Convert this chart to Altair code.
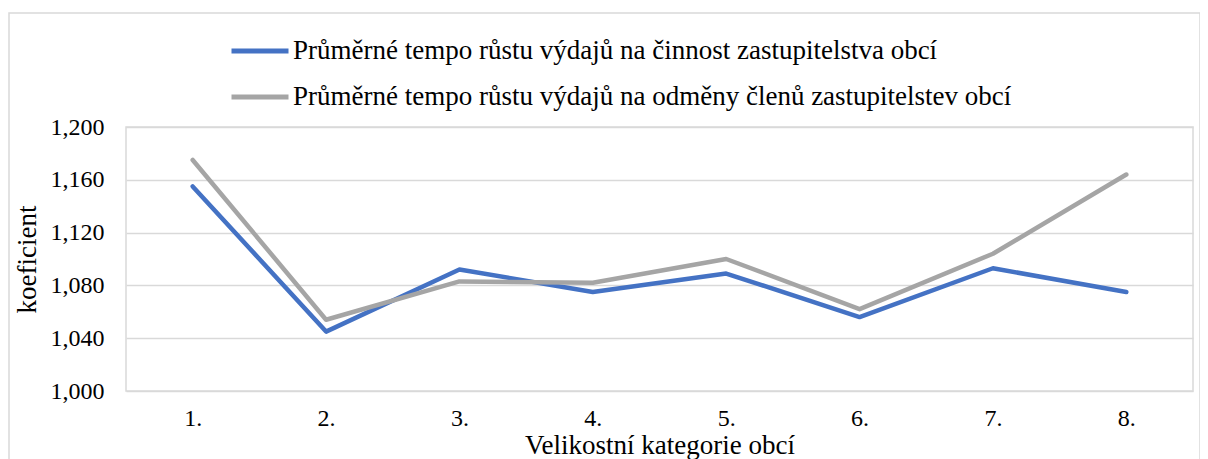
import altair as alt
import pandas as pd

categories = ["1.", "2.", "3.", "4.", "5.", "6.", "7.", "8."]
series_names = [
    "Průměrné tempo růstu výdajů na činnost zastupitelstva obcí",
    "Průměrné tempo růstu výdajů na odměny členů zastupitelstev obcí",
]
activity = [1.155, 1.045, 1.092, 1.075, 1.089, 1.056, 1.093, 1.075]
rewards = [1.175, 1.054, 1.083, 1.082, 1.100, 1.062, 1.104, 1.164]
y_ticks = [1.000, 1.040, 1.080, 1.120, 1.160, 1.200]
colors = ["#4472C4", "#A5A5A5"]

rows = []
for name, vals in zip(series_names, [activity, rewards]):
    for c, v in zip(categories, vals):
        rows.append({"kat": c, "serie": name, "hodnota": v})
df = pd.DataFrame(rows)

FONT = "Liberation Serif"
W, H = 1067, 264

frame = alt.Chart(pd.DataFrame({"a": [0]})).mark_rect(
    fill="transparent", stroke="#D9D9D9", strokeWidth=1.5
).encode(
    x=alt.value(-117), x2=alt.value(1074), y=alt.value(-114), y2=alt.value(345)
)

lines = alt.Chart(df).mark_line(strokeWidth=4.5, strokeCap="round", strokeJoin="round").encode(
    x=alt.X("kat:N", sort=categories, scale=alt.Scale(type="point", padding=0.5),
            axis=alt.Axis(title="Velikostní kategorie obcí", labelAngle=0, domain=False, ticks=False,
                          labelFont=FONT, labelFontSize=24, labelPadding=15, labelColor="#000",
                          titleFont=FONT, titleFontSize=27, titleFontWeight="normal", titleColor="#000",
                          titleBaseline="alphabetic", titleY=62, titleX=W / 2)),
    y=alt.Y("hodnota:Q", scale=alt.Scale(domain=[1.0, 1.2], nice=False, zero=False),
            axis=alt.Axis(title="koeficient", values=y_ticks, domain=False, ticks=False,
                          labelExpr="replace(format(datum.value, '.3f'), '.', ',')",
                          labelFont=FONT, labelFontSize=24, labelPadding=22, labelColor="#000",
                          gridColor="#D9D9D9", gridWidth=1.5,
                          titleFont=FONT, titleFontSize=27, titleFontWeight="normal", titleColor="#000",
                          titleX=-99, titleY=H / 2, titleAngle=-90, titleBaseline="middle", titleAlign="center")),
    color=alt.Color("serie:N", sort=series_names,
                    scale=alt.Scale(domain=series_names, range=colors),
                    legend=alt.Legend(title=None, orient="none", legendX=103, legendY=-107,
                                      symbolType="stroke", symbolSize=3249, symbolStrokeWidth=5,
                                      labelFont=FONT, labelFontSize=27, labelColor="#000", labelOffset=2,
                                      rowPadding=2, labelLimit=1000)),
)

chart = alt.layer(frame, lines).properties(
    width=W, height=H,
    autosize=alt.AutoSizeParams(type="none"),
    padding={"left": 118, "top": 119, "right": 7, "bottom": 68},
    background="white",
).configure(font=FONT).configure_view(stroke="#D9D9D9", strokeWidth=1.5)

chart.save("out.html", embed_options={"renderer": "svg", "actions": False})
